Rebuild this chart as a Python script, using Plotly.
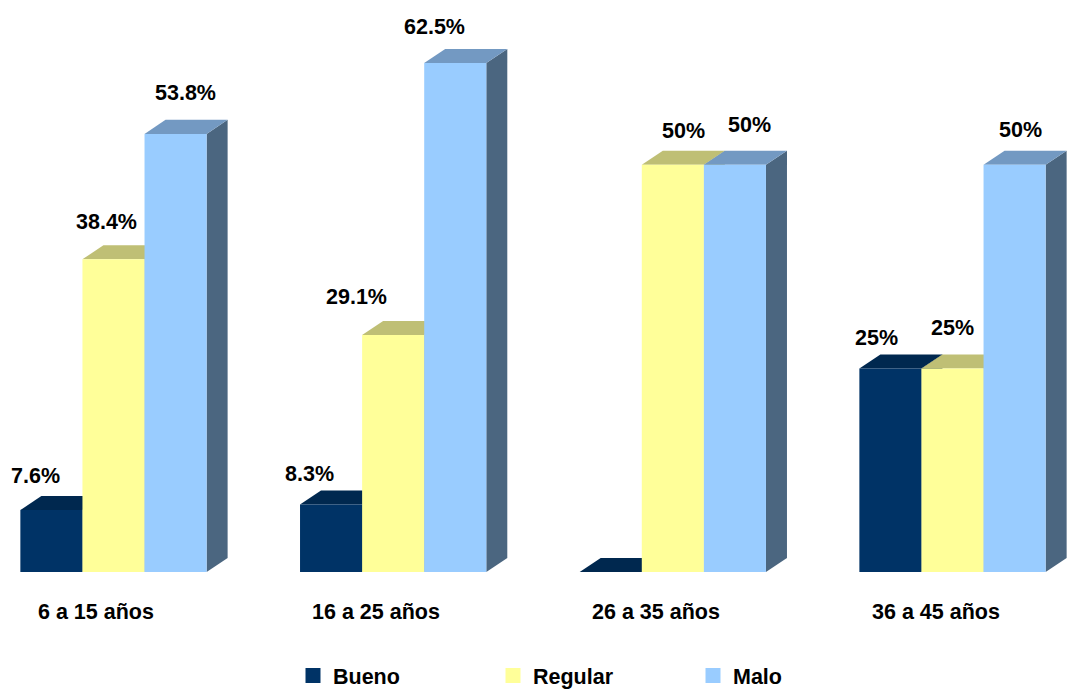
import plotly.graph_objects as go

# Age groups and the share (%) of each rating inside each group
categories = ["6 a 15 años", "16 a 25 años", "26 a 35 años", "36 a 45 años"]
series_names = ["Bueno", "Regular", "Malo"]
bueno = [7.6, 8.3, 0, 25]
regular = [38.4, 29.1, 50, 25]
malo = [53.8, 62.5, 50, 50]

# Style: front, top and side colours of each series
front_colors = ["#003366", "#FFFF99", "#99CCFF"]
top_colors = ["#00284F", "#BFBF75", "#7399C2"]
side_colors = ["#00223F", "#B5B56A", "#4B6680"]

# Small nudges (px) for the value labels: (right, up)
label_nudge = [
    [(-16, 34), (-22, 30), (0, 34), (-14, 30)],
    [(-7, 37), (-37, 38), (11, 34), (0, 40)],
    [(10, 41), (-21, 36), (15, 40), (6, 35)],
]

FONT = "Liberation Sans, Arial, sans-serif"
FONT_SIZE = 21.5
BAR_W = 0.222        # bar width in axis units
DEPTH_X = 0.0751     # 3D depth, horizontal component (axis units)
DEPTH_Y = 1.72       # 3D depth, vertical component (percentage points)

values = [bueno, regular, malo]

fig = go.Figure()
shapes = []
annotations = []

for s, (name, vals) in enumerate(zip(series_names, values)):
    xs = [g + (s - 1) * BAR_W for g in range(len(categories))]
    fig.add_trace(go.Bar(
        x=xs, y=vals, width=BAR_W, name=name,
        marker=dict(color=front_colors[s], line=dict(width=0)),
        showlegend=False, hoverinfo="skip",
    ))
    for g, (xc, v) in enumerate(zip(xs, vals)):
        xl, xr = xc - BAR_W / 2, xc + BAR_W / 2
        # right side face
        shapes.append(dict(
            type="path", layer="below", line=dict(width=0),
            fillcolor=side_colors[s], xref="x", yref="y",
            path=f"M{xr},0 L{xr + DEPTH_X},{DEPTH_Y} L{xr + DEPTH_X},{v + DEPTH_Y} L{xr},{v} Z",
        ))
        # top face
        shapes.append(dict(
            type="path", layer="below", line=dict(width=0),
            fillcolor=top_colors[s], xref="x", yref="y",
            path=f"M{xl},{v} L{xl + DEPTH_X},{v + DEPTH_Y} L{xr + DEPTH_X},{v + DEPTH_Y} L{xr},{v} Z",
        ))
        if v > 0:
            nx, ny = label_nudge[s][g]
            annotations.append(dict(
                x=xc, y=v, xref="x", yref="y", text=f"{v:g}%",
                showarrow=False, xanchor="center", yanchor="middle",
                xshift=nx, yshift=ny,
                font=dict(family=FONT, size=FONT_SIZE, color="#000000", weight="bold"),
            ))

# Category labels under each group
for g, cat in enumerate(categories):
    annotations.append(dict(
        x=g, y=0, xref="x", yref="y", text=cat, showarrow=False,
        xanchor="center", yanchor="middle", xshift=-17, yshift=-40,
        font=dict(family=FONT, size=FONT_SIZE, color="#000000", weight="bold"),
    ))

# Legend entries with larger square swatches
for s, name in enumerate(series_names):
    fig.add_trace(go.Scatter(
        x=[None], y=[None], mode="markers", name=name,
        marker=dict(symbol="square", size=15, color=front_colors[s]),
        hoverinfo="skip",
    ))

fig.update_layout(
    width=1067, height=689,
    margin=dict(l=0, r=0, t=0, b=117, autoexpand=False),
    paper_bgcolor="#FFFFFF", plot_bgcolor="#FFFFFF",
    barmode="overlay",
    shapes=shapes,
    annotations=annotations,
    xaxis=dict(range=[-0.4058, 3.4094], visible=False, fixedrange=True),
    yaxis=dict(range=[0, 70.24], visible=False, fixedrange=True),
    showlegend=True,
    legend=dict(
        orientation="h", x=293 / 1067, xanchor="left",
        y=-(675.5 - 572) / 572, yanchor="middle",
        entrywidth=155, entrywidthmode="pixels",
        font=dict(family=FONT, size=FONT_SIZE, color="#000000", weight="bold"),
        bgcolor="rgba(0,0,0,0)",
    ),
)

fig.write_html("out.html")
